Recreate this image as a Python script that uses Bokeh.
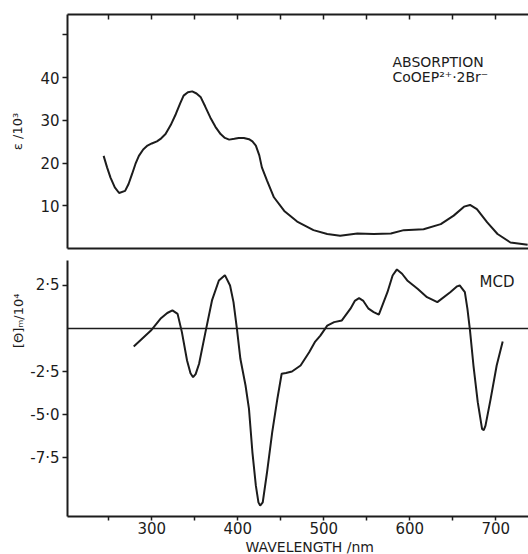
from bokeh.plotting import figure
from bokeh.layouts import column
from bokeh.models import Range1d, FixedTicker, LinearAxis, Span, Label, Title
from bokeh.embed import file_html
from bokeh.resources import INLINE

# ---- data ----
abs_wavelength = [244, 248, 252, 257, 262, 269, 273, 277, 281, 285, 290, 295, 300, 306, 311,
                  316, 322, 328, 333, 337, 342, 347, 352, 357, 362, 368, 374, 380, 385, 390,
                  396, 401, 407, 413, 417, 421, 425, 428, 434, 442, 454, 469, 488, 504, 519,
                  539, 558, 578, 593, 616, 636, 651, 663, 670, 678, 690, 702, 717, 737]
abs_epsilon = [21.7, 19.0, 16.6, 14.3, 13.0, 13.5, 15.1, 17.4, 19.8, 21.7, 23.2, 24.1, 24.6, 25.1, 25.8,
               26.8, 28.9, 31.5, 34.0, 35.8, 36.6, 36.8, 36.3, 35.4, 33.3, 30.7, 28.5, 26.8, 25.9, 25.5,
               25.7, 25.9, 25.9, 25.6, 25.1, 24.1, 21.8, 19.0, 15.9, 12.0, 8.8, 6.3, 4.3, 3.4, 3.0,
               3.5, 3.4, 3.5, 4.3, 4.5, 5.7, 7.7, 9.8, 10.2, 9.2, 6.1, 3.4, 1.4, 0.9]

mcd_wavelength = [279, 299, 310, 318, 324, 330, 335, 341, 345, 348, 351, 355, 362, 370, 378,
                  385, 391, 395, 399, 403, 409, 413, 417, 421, 424, 426, 429, 434, 440, 446,
                  451, 456, 463, 473, 483, 490, 496, 504, 512, 521, 531, 536, 541, 546, 552,
                  558, 564, 574, 580, 585, 591, 597, 609, 620, 632, 647, 655, 658, 664, 667,
                  670, 674, 679, 684, 686, 688, 694, 701, 708]
mcd_theta = [-1.05, -0.12, 0.56, 0.9, 1.05, 0.85, -0.21, -1.86, -2.6, -2.83, -2.65, -2.05, -0.31, 1.63, 2.79,
             3.1, 2.5, 1.53, -0.02, -1.76, -3.31, -4.67, -7.19, -9.13, -10.1, -10.29, -10.1, -8.35, -6.03, -4.09,
             -2.63, -2.58, -2.5, -2.15, -1.38, -0.76, -0.41, 0.17, 0.37, 0.47, 1.15, 1.6, 1.76, 1.6, 1.15,
             0.95, 0.8, 2.11, 3.08, 3.43, 3.18, 2.79, 2.31, 1.82, 1.53, 2.11, 2.45, 2.5, 2.11, 1.14,
             -0.12, -2.15, -4.28, -5.83, -5.9, -5.64, -4.09, -2.15, -0.76]

x_label_ticks = [300, 400, 500, 600, 700]
x_minor_ticks = [250, 350, 450, 550, 650]
abs_y_ticks = [10, 20, 30, 40]
abs_y_minor = [50]
mcd_y_ticks = [2.5, -2.5, -5.0, -7.5]
mcd_y_tick_labels = ["2·5", "-2·5", "-5·0", "-7·5"]

FONT = "DejaVu Sans"
INK = "#1c1c1c"
X0, X1 = 202, 738


def style_axis(ax, size="15px"):
    ax.axis_line_color = INK
    ax.axis_line_width = 2
    ax.major_tick_line_color = INK
    ax.major_tick_line_width = 1.5
    ax.minor_tick_line_color = INK
    ax.minor_tick_line_width = 1.5
    ax.major_label_text_font = FONT
    ax.major_label_text_font_size = size
    ax.major_label_text_color = INK
    ax.axis_label_text_font = FONT
    ax.axis_label_text_font_style = "normal"
    ax.axis_label_text_color = INK


# ---- top panel: absorption ----
top = figure(width=528, height=250, x_range=Range1d(X0, X1), y_range=Range1d(0, 54.8),
             output_backend="svg", toolbar_location=None,
             x_axis_location=None, y_axis_location=None,
             min_border_left=67, min_border_right=0, min_border_top=14, min_border_bottom=2)
top.outline_line_color = None
top.grid.visible = False

yl = LinearAxis(ticker=FixedTicker(ticks=abs_y_ticks, minor_ticks=abs_y_minor),
                axis_label="ε /10³")
style_axis(yl)
yl.major_tick_out = 5
yl.major_tick_in = 0
yl.minor_tick_out = 5
yl.minor_tick_in = 0
yl.major_label_standoff = 3
yl.axis_label_text_font_size = "13px"
yl.axis_label_standoff = 12
top.add_layout(yl, "left")

# top frame line with inward ticks (major tick placed outside the range so no labels)
ya = LinearAxis(ticker=FixedTicker(ticks=[1000], minor_ticks=x_label_ticks + x_minor_ticks))
style_axis(ya)
ya.minor_tick_in = 5
ya.minor_tick_out = 0
ya.major_tick_in = 0
ya.major_tick_out = 0
ya.major_label_standoff = 0
top.add_layout(ya, "above")

yb = LinearAxis(ticker=FixedTicker(ticks=[1000], minor_ticks=[]))
style_axis(yb)
yb.major_tick_in = 0
yb.major_tick_out = 0
yb.major_label_standoff = 0
top.add_layout(yb, "below")

top.line(abs_wavelength, abs_epsilon, line_color=INK, line_width=2)

top.add_layout(Label(x=325, y=179, x_units="screen", y_units="screen", text="ABSORPTION",
                     text_font=FONT, text_font_size="14px", text_color=INK))
top.add_layout(Label(x=325, y=164, x_units="screen", y_units="screen", text="CoOEP²⁺·2Br⁻",
                     text_font=FONT, text_font_size="14px", text_color=INK))

# ---- bottom panel: MCD ----
bot = figure(width=528, height=304, x_range=Range1d(X0, X1), y_range=Range1d(-10.92, 3.95),
             output_backend="svg", toolbar_location=None,
             x_axis_location=None, y_axis_location=None,
             min_border_left=67, min_border_right=0, min_border_top=10, min_border_bottom=36)
bot.outline_line_color = None
bot.grid.visible = False

ml = LinearAxis(ticker=FixedTicker(ticks=mcd_y_ticks, minor_ticks=[]),
                major_label_overrides={t: s for t, s in zip(mcd_y_ticks, mcd_y_tick_labels)})
style_axis(ml)
ml.major_tick_out = 5
ml.major_tick_in = 0
ml.major_label_standoff = 3
bot.add_layout(ml, "left")
bot.add_layout(Title(text="[Θ]ₘ/10⁴", align="right", offset=33, standoff=4,
                     text_font=FONT, text_font_size="13px", text_font_style="normal",
                     text_color=INK), "left")

mb = LinearAxis(ticker=FixedTicker(ticks=x_label_ticks, minor_ticks=x_minor_ticks))
style_axis(mb)
mb.major_tick_out = 4
mb.major_tick_in = 0
mb.minor_tick_out = 4
mb.minor_tick_in = 0
mb.major_label_standoff = 1
bot.add_layout(mb, "below")
bot.add_layout(Title(text="WAVELENGTH /nm", align="left", offset=178, standoff=0,
                     text_font=FONT, text_font_size="14px", text_font_style="normal",
                     text_color=INK), "below")

bot.add_layout(Span(location=0, dimension="width", line_color=INK, line_width=1.5))
bot.line(mcd_wavelength, mcd_theta, line_color=INK, line_width=2)

bot.add_layout(Label(x=412, y=226, x_units="screen", y_units="screen", text="MCD",
                     text_font=FONT, text_font_size="15px", text_color=INK))

layout = column(top, bot, spacing=0)
open("out.html", "w").write(file_html(layout, INLINE))
